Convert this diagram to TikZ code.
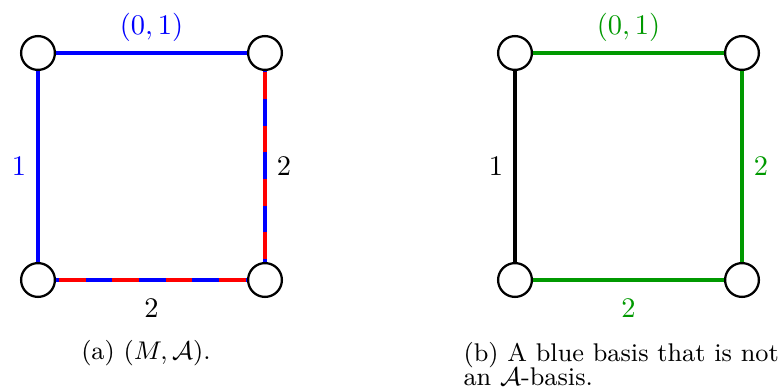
\documentclass[tikz,border=0pt]{standalone}
\usepackage{amsmath}
\usetikzlibrary{positioning}
\definecolor{gcol}{RGB}{0,153,0}
\tikzset{
  vtx/.style={circle, draw=black, thick, fill=white, minimum size=11.9pt, inner sep=0pt},
  ed/.style={line width=1.7pt},
  % aresta bicolor: vermelho por baixo, azul tracejado por cima
  rbase/.style={ed, draw=red},
  btop/.style={ed, draw=blue, dash pattern=on 9.38pt off 9.38pt, dash phase=8.3pt},
  subcap/.style={font=\small, inner sep=0pt}
}

\begin{document}
\begin{tikzpicture}[x=0.352pt, y=-0.352pt]
    \useasboundingbox (0,0) rectangle (783,392);

    % --- (a): a matroide com as duas cores ---
    \node[vtx] (a1) at (38,53) {};
    \node[vtx] (a2) at (265,53) {};
    \node[vtx] (a3) at (38,280) {};
    \node[vtx] (a4) at (265,280) {};
    \draw[ed, blue] (a1) -- node[above]{$(0,1)$} (a2);
    \draw[ed, blue] (a1) -- node[left]{$1$} (a3);
    \draw[rbase] (a3) -- node[below=2.5pt]{$2$} (a4);
    \draw[btop] (a3) -- (a4);
    \draw[rbase] (a4) -- node[right]{$2$} (a2);
    \draw[btop] (a4) -- (a2);
    \node[subcap, anchor=base] (capa) at (146,359) {(a) $(M,\mathcal{A})$.};

    % --- (b): base azul que nao e A-base ---
    \node[vtx] (b1) at (515,53) {};
    \node[vtx] (b2) at (742,53) {};
    \node[vtx] (b3) at (515,280) {};
    \node[vtx] (b4) at (742,280) {};
    \draw[ed, gcol] (b1) -- node[above]{$(0,1)$} (b2);
    \draw[ed, black] (b1) -- node[left]{$1$} (b3);
    \draw[ed, gcol] (b3) -- node[below=2.5pt]{$2$} (b4);
    \draw[ed, gcol] (b4) -- node[right]{$2$} (b2);
    \node[subcap, anchor=north west, align=left] (capb) at (463,342)
      {(b) A blue basis that is not\\[-2.6pt]an $\mathcal{A}$-basis.};
\end{tikzpicture}
\end{document}
